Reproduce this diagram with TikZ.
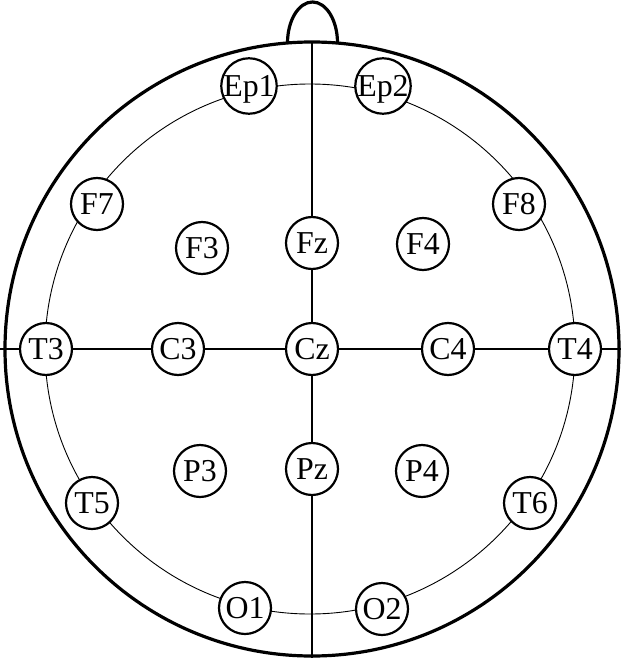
\documentclass[tikz,border=0pt]{standalone}
\usepackage{fontspec}
\setmainfont{Liberation Serif}
\begin{document}
\begin{tikzpicture}
  [
    x=1bp, y=-1bp,
    head/.style={line width=3.2bp},
    scalp/.style={line width=0.9bp},
    midline/.style={line width=1.4bp},
    electrode/.style={circle, draw, line width=2.2bp, fill=white, minimum size=52bp,
      inner sep=0pt, text height=21bp, text depth=0bp, font=\fontsize{32}{33}\selectfont}
  ]
  \useasboundingbox (0, 0) rectangle (621, 658);

  \draw[head] (287.5, 43) arc[start angle=180, end angle=360, x radius=25, y radius=41];
  \draw[head] (312, 349) circle[radius=307];
  \draw[scalp] (310, 349) circle[radius=265];

  \node[electrode] (ep1) at (249, 86) {Ep1};
  \node[electrode] (ep2) at (383, 86) {Ep2};
  \node[electrode] (f7) at (97, 204) {F7};
  \node[electrode] (f8) at (519, 204) {F8};
  \node[electrode] (f3) at (202, 248) {F3};
  \node[electrode] (fz) at (312, 243) {Fz};
  \node[electrode] (f4) at (423, 244) {F4};
  \node[electrode] (t3) at (46, 349) {T3};
  \node[electrode] (c3) at (178, 349) {C3};
  \node[electrode] (cz) at (312, 349) {Cz};
  \node[electrode] (c4) at (448, 349) {C4};
  \node[electrode] (t4) at (575, 349) {T4};
  \node[electrode] (p3) at (200, 471) {P3};
  \node[electrode] (pz) at (312, 469) {Pz};
  \node[electrode] (p4) at (422, 471) {P4};
  \node[electrode] (t5) at (92, 503) {T5};
  \node[electrode] (t6) at (530, 503) {T6};
  \node[electrode] (o1) at (245, 608) {O1};
  \node[electrode] (o2) at (382, 609) {O2};

  \coordinate (left) at (0, 349);
  \coordinate (right) at (621, 349);
  \coordinate (nasion) at (312, 42);
  \coordinate (inion) at (312, 658);

  \draw[midline] (left) -- (t3) -- (c3) -- (cz) -- (c4) -- (t4) -- (right);
  \draw[midline] (nasion) -- (fz) -- (cz) -- (pz) -- (inion);
\end{tikzpicture}
\end{document}
